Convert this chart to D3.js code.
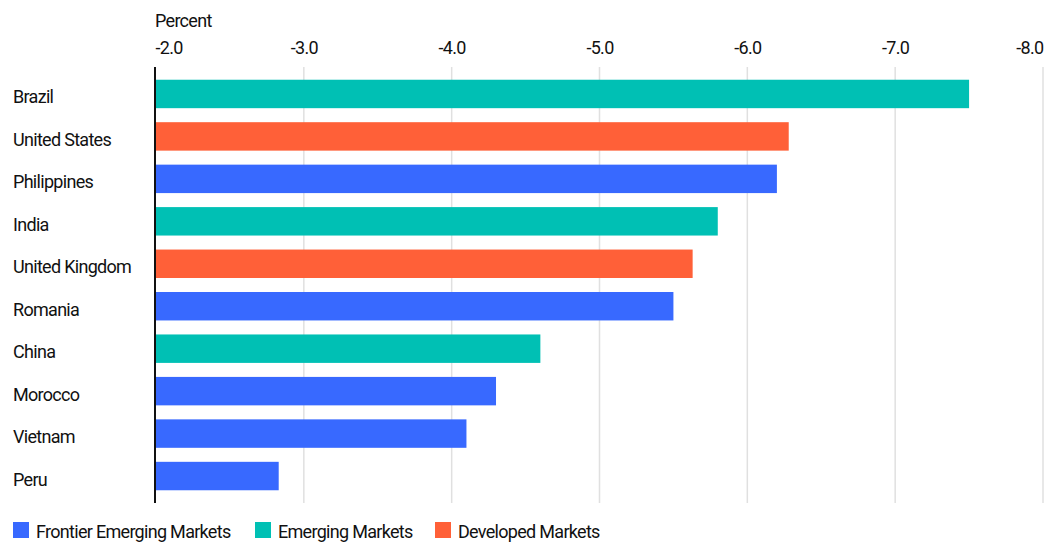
<!DOCTYPE html>
<html>
<head>
<meta charset="utf-8">
<script src="https://cdn.jsdelivr.net/npm/d3@7"></script>
<style>
  html, body { margin: 0; padding: 0; background: #fff; }
  svg text { font-family: Roboto, "Noto Sans", sans-serif; fill: #111; font-size: 18px; letter-spacing: -0.7px; }
</style>
</head>
<body>
<svg id="chart" width="1056" height="543"></svg>
<script>
// Countries, top to bottom
const countries = ["Brazil", "United States", "Philippines", "India", "United Kingdom",
                   "Romania", "China", "Morocco", "Vietnam", "Peru"];
// Change, percent
const values = [-7.5, -6.28, -6.2, -5.8, -5.63, -5.5, -4.6, -4.3, -4.1, -2.83];
// Market group of each country
const groups = ["Emerging Markets", "Developed Markets", "Frontier Emerging Markets",
                "Emerging Markets", "Developed Markets", "Frontier Emerging Markets",
                "Emerging Markets", "Frontier Emerging Markets", "Frontier Emerging Markets",
                "Frontier Emerging Markets"];
const legendGroups = ["Frontier Emerging Markets", "Emerging Markets", "Developed Markets"];
const groupColors = ["#3869FF", "#00C0B4", "#FF6038"];
const tickValues = [-2, -3, -4, -5, -6, -7, -8];

const rows = countries.map((c, i) => ({ country: c, value: values[i], group: groups[i] }));

const svg = d3.select("#chart");

const x = d3.scaleLinear().domain([-2, -8]).range([156, 1043]);
const y = d3.scaleBand().domain(countries).range([67, 503])
  .paddingInner(0.33).paddingOuter(0.3);
const color = d3.scaleOrdinal().domain(legendGroups).range(groupColors);

// Vertical gridlines
svg.append("g")
  .selectAll("line")
  .data(tickValues.slice(1))
  .join("line")
  .attr("x1", d => x(d)).attr("x2", d => x(d))
  .attr("y1", 67).attr("y2", 503)
  .attr("stroke", "#e0e0e0").attr("stroke-width", 1.5);

// Top axis labels; first and last are pinned to the plot edges
const axis = d3.axisTop(x).tickValues(tickValues)
  .tickFormat(d => d.toFixed(1)).tickSize(0).tickPadding(0);
const gAxis = svg.append("g").attr("transform", "translate(0,54)").call(axis);
gAxis.select(".domain").remove();
gAxis.attr("font-family", null).attr("font-size", null);
gAxis.selectAll("text")
  .attr("y", 0).attr("dy", 0)
  .attr("fill", "#111")
  .attr("text-anchor", (d, i) => i === 0 ? "start" : (i === tickValues.length - 1 ? "end" : "middle"))
  .attr("dx", (d, i) => i === 0 ? -1 : 0);

svg.append("text")
  .attr("x", 155).attr("y", 27)
  .text("Percent");

// Bars
svg.append("g")
  .selectAll("rect")
  .data(rows)
  .join("rect")
  .attr("x", x(-2))
  .attr("y", d => y(d.country))
  .attr("width", d => x(d.value) - x(-2))
  .attr("height", y.bandwidth())
  .attr("fill", d => color(d.group));

// Baseline at -2.0
svg.append("line")
  .attr("x1", x(-2) - 1).attr("x2", x(-2) - 1)
  .attr("y1", 67).attr("y2", 503)
  .attr("stroke", "#111").attr("stroke-width", 2);

// Category labels
svg.append("g")
  .selectAll("text")
  .data(rows)
  .join("text")
  .attr("x", 13)
  .attr("y", d => y(d.country) + y.bandwidth() / 2 + 9.5)
  .text(d => d.country);

// Legend
const legendX = [13, 255, 435];
const lg = svg.append("g").selectAll("g")
  .data(legendGroups)
  .join("g")
  .attr("transform", (d, i) => `translate(${legendX[i]},522)`);
lg.append("rect").attr("width", 16).attr("height", 16).attr("fill", d => color(d));
lg.append("text").attr("x", 23).attr("y", 16)
  .text(d => d);
</script>
</body>
</html>
